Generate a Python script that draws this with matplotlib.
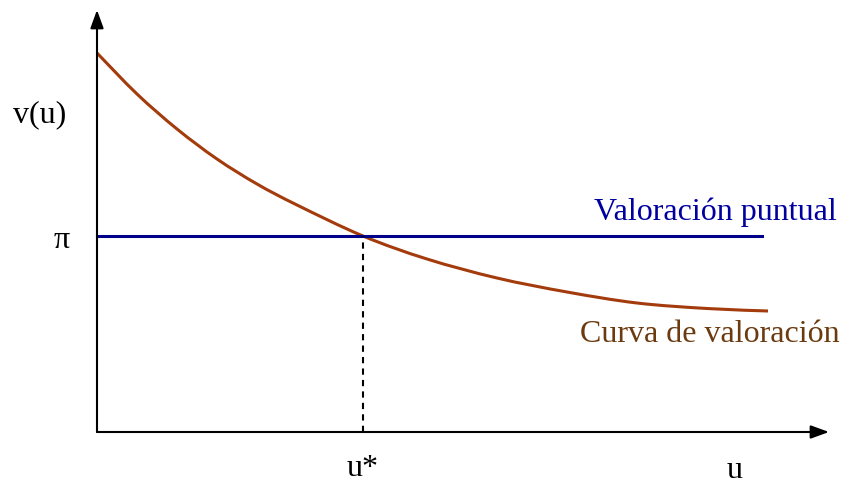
import matplotlib.pyplot as plt
from matplotlib.path import Path
from matplotlib.patches import PathPatch

# curve samples (u, v)
u = [0, 40, 80, 120, 160, 200, 266, 330, 400, 470, 540, 610, 671]
v = [379, 338, 303, 273, 248, 227, 196, 173, 154, 140, 129, 123.5, 121]
pi_val = 196
u_star = 266
u_end = 665

plt.rcParams['font.family'] = ['Liberation Serif', 'DejaVu Serif']

fig = plt.figure(figsize=(8.43, 4.86), dpi=100)
ax = fig.add_axes([0, 0, 1, 1])
ax.set_xlim(-97, 746)
ax.set_ylim(-54, 432)
ax.axis('off')

# axes with arrows
arrow = dict(arrowstyle='-|>,head_length=1.1,head_width=0.4',
             color='black', lw=1.5, shrinkA=0, shrinkB=0)
ax.annotate('', xy=(732, 0), xytext=(0, 0), arrowprops=arrow)
ax.annotate('', xy=(0, 422), xytext=(0, 0), arrowprops=arrow)

# smooth curve through the samples (Catmull-Rom as cubic Bezier segments)
pts = list(zip(u, v))
verts = [pts[0]]
codes = [Path.MOVETO]
for i in range(len(pts) - 1):
    p0 = pts[i - 1] if i > 0 else pts[i]
    p1 = pts[i]
    p2 = pts[i + 1]
    p3 = pts[i + 2] if i + 2 < len(pts) else pts[i + 1]
    c1 = (p1[0] + (p2[0] - p0[0]) / 6, p1[1] + (p2[1] - p0[1]) / 6)
    c2 = (p2[0] - (p3[0] - p1[0]) / 6, p2[1] - (p3[1] - p1[1]) / 6)
    verts += [c1, c2, p2]
    codes += [Path.CURVE4] * 3
ax.add_patch(PathPatch(Path(verts, codes), fill=False, edgecolor='#a33b0c', lw=2.2))

ax.plot([0, u_end], [pi_val, pi_val], color='#00008b', lw=2.2)
ax.plot([u_star, u_star], [0, pi_val], color='black', lw=1.5, ls=(0, (3, 2.5)))

ax.text(-57, 317, 'v(u)', fontsize=23, ha='center', va='center')
ax.text(-35, 192, 'π', fontsize=23, ha='center', va='center')
ax.text(u_star, -36, 'u*', fontsize=23, ha='center', va='center')
ax.text(638, -38, 'u', fontsize=23, ha='center', va='center')
ax.text(618, 220, 'Valoración puntual', fontsize=23, ha='center', va='center', color='#0000a0')
ax.text(613, 97, 'Curva de valoración', fontsize=23, ha='center', va='center', color='#6b3a0f')

fig.savefig('out.png', dpi=100)
